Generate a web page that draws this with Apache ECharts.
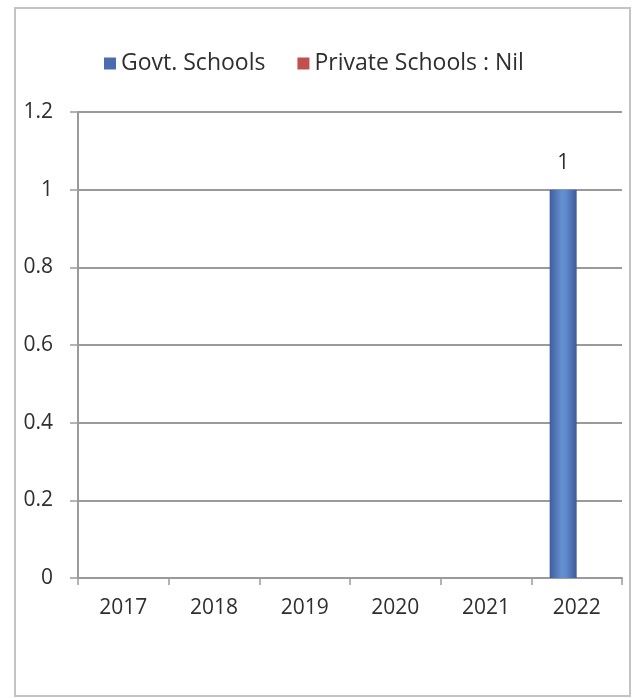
<!DOCTYPE html>
<html>
<head>
<meta charset="utf-8">
<script src="https://cdn.jsdelivr.net/npm/echarts@6/dist/echarts.min.js"></script>
<style>
html,body{margin:0;padding:0;background:#fff;}
#chart{width:633px;height:698px;}
</style>
</head>
<body>
<div id="chart"></div>
<script>
var categories = ['2017', '2018', '2019', '2020', '2021', '2022'];
var govtSchools = [0, 0, 0, 0, 0, 1];
var privateSchools = [0, 0, 0, 0, 0, 0];
var seriesNames = ['Govt. Schools', 'Private Schools : Nil'];
var yMin = 0, yMax = 1.2, yStep = 0.2;

var chart = echarts.init(document.getElementById('chart'));
var font = 'Open Sans';
var txt = '#2e2e2e';
var gridColor = '#9a9a9a';
chart.setOption({
  animation: false,
  backgroundColor: '#ffffff',
  graphic: [{
    type: 'rect',
    shape: {x: 15, y: 8, width: 615, height: 688},
    style: {fill: 'none', stroke: '#c4c4c4', lineWidth: 2},
    silent: true
  }],
  legend: {
    top: 47,
    left: 99,
    itemWidth: 12,
    itemHeight: 12,
    itemGap: 32,
    icon: 'rect',
    textStyle: {fontFamily: font, fontSize: 23, color: txt},
    data: [
      {name: seriesNames[0], itemStyle: {color: '#4a6db0'}},
      {name: seriesNames[1], itemStyle: {color: '#c0504d'}}
    ]
  },
  grid: {left: 78, right: 11, top: 112, bottom: 120},
  xAxis: {
    type: 'category',
    data: categories,
    axisLine: {lineStyle: {color: gridColor, width: 2}},
    axisTick: {show: true, length: 7, lineStyle: {color: gridColor, width: 1.5}},
    axisLabel: {fontFamily: font, fontSize: 21, color: txt, margin: 20}
  },
  yAxis: {
    type: 'value',
    min: yMin, max: yMax, interval: yStep,
    axisLine: {show: true, lineStyle: {color: gridColor, width: 2}},
    axisTick: {show: true, length: 8, lineStyle: {color: gridColor, width: 1.5}},
    splitLine: {lineStyle: {color: gridColor, width: 2}},
    axisLabel: {fontFamily: font, fontSize: 21, color: txt, margin: 25,
      formatter: function (v) { return String(Math.round(v * 10) / 10); }}
  },
  series: [{
    name: seriesNames[0],
    type: 'bar',
    data: govtSchools,
    barWidth: 27,
    barGap: '0%',
    itemStyle: {
      color: new echarts.graphic.LinearGradient(0, 0, 1, 0, [
        {offset: 0, color: '#3d5e9f'},
        {offset: 0.45, color: '#6490d0'},
        {offset: 0.6, color: '#5f8bcc'},
        {offset: 1, color: '#3c5a98'}
      ])
    },
    label: {
      show: true, position: 'top', distance: 16,
      fontFamily: font, fontSize: 21, color: txt,
      formatter: function (p) { return p.value > 0 ? String(p.value) : ''; }
    }
  }, {
    name: seriesNames[1],
    type: 'bar',
    data: privateSchools,
    barWidth: 27,
    itemStyle: {color: '#c0504d'}
  }]
});
</script>
</body>
</html>
